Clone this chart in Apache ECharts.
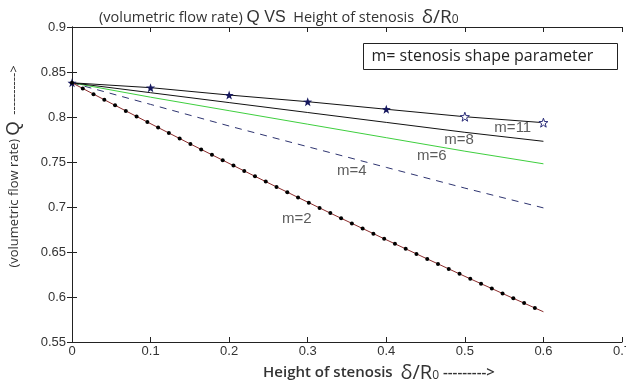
<!DOCTYPE html>
<html>
<head>
<meta charset="utf-8">
<script src="https://cdn.jsdelivr.net/npm/echarts@6/dist/echarts.min.js"></script>
<style>html,body{margin:0;padding:0;background:#fff}#c{width:626px;height:383px}</style>
</head>
<body>
<div id="c"></div>
<script>
// ---- data ----
const xTicks = [0, 0.1, 0.2, 0.3, 0.4, 0.5, 0.6, 0.7];
const yTicks = [0.55, 0.6, 0.65, 0.7, 0.75, 0.8, 0.85, 0.9];
const xCoarse = [0, 0.1, 0.2, 0.3, 0.4, 0.5, 0.6];
const m4 = [0.838, 0.814, 0.790, 0.767, 0.744, 0.721, 0.699];
const m6 = [0.838, 0.822, 0.807, 0.792, 0.777, 0.762, 0.748];
const m8 = [0.838, 0.827, 0.816, 0.805, 0.794, 0.783, 0.773];
const m11 = [0.838, 0.8326, 0.8244, 0.817, 0.8086, 0.8003, 0.7937];
const xFine = [0, 0.0137, 0.0274, 0.0411, 0.0548, 0.0685, 0.0822, 0.0959, 0.1096, 0.1233,
  0.137, 0.1507, 0.1644, 0.1781, 0.1918, 0.2055, 0.2192, 0.2329, 0.2466, 0.2603,
  0.274, 0.2877, 0.3014, 0.3151, 0.3288, 0.3425, 0.3562, 0.3699, 0.3836, 0.3973,
  0.411, 0.4247, 0.4384, 0.4521, 0.4658, 0.4795, 0.4932, 0.5069, 0.5206, 0.5343,
  0.548, 0.5617, 0.5754, 0.5891];
const m2 = [0.838, 0.8317, 0.8254, 0.8192, 0.8130, 0.8068, 0.8006, 0.7944, 0.7883, 0.7822,
  0.7761, 0.7700, 0.7640, 0.7580, 0.7520, 0.7460, 0.7401, 0.7341, 0.7282, 0.7223,
  0.7165, 0.7106, 0.7048, 0.6990, 0.6932, 0.6875, 0.6818, 0.6761, 0.6704, 0.6647,
  0.6591, 0.6535, 0.6479, 0.6423, 0.6368, 0.6312, 0.6257, 0.6202, 0.6148, 0.6094,
  0.6039, 0.5985, 0.5932, 0.5878];
const m2End = [0.6, 0.5836];
const curveLabels = ['m=2', 'm=4', 'm=6', 'm=8', 'm=11'];
const labelX = [0.286, 0.356, 0.458, 0.4926, 0.561];
const labelY = [0.6867, 0.740, 0.7567, 0.7744, 0.7878];

const pair = (xs, ys) => ys.map((v, i) => [xs[i], v]);
const m2Data = pair(xFine, m2).concat([{value: m2End, symbol: 'none'}]);
const hollowFrom = 5;
const m11Data = pair(xCoarse, m11).map((p, i) => i >= hollowFrom
  ? {value: p, itemStyle: {color: '#fff', borderColor: '#2a2c78', borderWidth: 1}} : p);

const tickFont = {fontFamily: 'Liberation Sans, Arial, sans-serif', fontSize: 13, color: '#333'};
const axisLine = {show: true, lineStyle: {color: '#222', width: 1}};
const tick = {show: true, inside: true, length: 5, lineStyle: {color: '#222'}};

const chart = echarts.init(document.getElementById('c'));
chart.setOption({
  animation: false,
  backgroundColor: '#fff',
  title: {
    left: 94, top: 3,
    text: '{a|(volumetric flow rate) }{q|Q }{v|VS}{a|  Height of stenosis  }{d|δ/R}{s|0}',
    textStyle: {
      fontWeight: 'normal',
      rich: {
        a: {fontFamily: 'Open Sans', fontSize: 14.5, color: '#333', fontWeight: 'normal'},
        q: {fontFamily: 'Liberation Sans', fontSize: 17, color: '#333', fontWeight: 'normal'},
        v: {fontFamily: 'Liberation Sans', fontSize: 16, color: '#333', fontWeight: 'normal'},
        d: {fontFamily: 'Open Sans', fontSize: 19, color: '#333', fontWeight: 'normal'},
        s: {fontFamily: 'Open Sans', fontSize: 12, color: '#333', fontWeight: 'normal', padding: [5, 0, 0, 0]}
      }
    }
  },
  grid: {left: 72, right: 4, top: 27, bottom: 41, containLabel: false, outerBoundsMode: 'none'},
  xAxis: [{
    type: 'value', min: 0, max: 0.7, interval: 0.1,
    axisLine: axisLine, axisTick: tick, splitLine: {show: false},
    axisLabel: Object.assign({margin: 3, formatter: v => String(+v.toFixed(1))}, tickFont),
    name: '{a|Height of stenosis  }{d|δ/R}{s|0}{a| --------->}',
    nameLocation: 'middle', nameGap: 14,
    nameTextStyle: {
      padding: [0, 0, 0, 64],
      rich: {
        a: {fontFamily: 'Open Sans', fontSize: 15, color: '#333', fontWeight: 600},
        d: {fontFamily: 'Open Sans', fontSize: 20, color: '#333'},
        s: {fontFamily: 'Open Sans', fontSize: 12, color: '#333', padding: [5, 0, 0, 0]}
      }
    }
  }, {
    type: 'value', position: 'top', min: 0, max: 0.7, interval: 0.1,
    axisLine: axisLine, axisTick: tick, axisLabel: {show: false}, splitLine: {show: false}
  }],
  yAxis: [{
    type: 'value', min: 0.55, max: 0.9, interval: 0.05,
    axisLine: axisLine, axisTick: tick, splitLine: {show: false},
    axisLabel: Object.assign({margin: 6, formatter: v => String(+v.toFixed(2))}, tickFont),
    name: '{a|(volumetric flow rate) }{q|Q}{a|  ---------->}',
    nameLocation: 'middle', nameRotate: 90, nameGap: 49,
    nameTextStyle: {
      padding: [0, 0, 0, 36],
      rich: {
        a: {fontFamily: 'Open Sans', fontSize: 13, color: '#333'},
        q: {fontFamily: 'Liberation Sans', fontSize: 18, color: '#333'}
      }
    }
  }, {
    type: 'value', position: 'right', min: 0.55, max: 0.9, interval: 0.05,
    axisLine: axisLine, axisTick: tick, axisLabel: {show: false}, splitLine: {show: false}
  }],
  graphic: [{
    type: 'group', left: 363, top: 43,
    children: [
      {type: 'rect', shape: {x: 0, y: 0, width: 254, height: 26}, style: {fill: '#fff', stroke: '#222', lineWidth: 1}},
      {type: 'text', x: 8, y: 13, style: {text: 'm= stenosis shape parameter', font: '16px "Open Sans"', fill: '#222', verticalAlign: 'middle'}}
    ]
  }],
  series: [
    {type: 'line', name: 'm=4', data: pair(xCoarse, m4), showSymbol: false, lineStyle: {color: '#2e3470', width: 1, type: [7, 6]}, z: 3},
    {type: 'line', name: 'm=6', data: pair(xCoarse, m6), showSymbol: false, lineStyle: {color: '#3ecf3e', width: 1}, z: 3},
    {type: 'line', name: 'm=8', data: pair(xCoarse, m8), showSymbol: false, lineStyle: {color: '#111', width: 1}, z: 3},
    {type: 'line', name: 'm=11', data: m11Data, symbol: 'path://M0,-10 L2.35,-3.24 L9.51,-3.09 L3.8,1.24 L5.88,8.09 L0,4 L-5.88,8.09 L-3.8,1.24 L-9.51,-3.09 L-2.35,-3.24 Z', symbolSize: 9, itemStyle: {color: '#16185e'}, lineStyle: {color: '#111', width: 1}, z: 4},
    {type: 'line', name: 'm=2', data: m2Data, symbol: 'circle', symbolSize: 4, itemStyle: {color: '#000'}, lineStyle: {color: '#8a2b2b', width: 1}, z: 4},
    {type: 'scatter', name: 'labels', symbolSize: 0, silent: true,
      data: curveLabels.map((t, i) => ({value: [labelX[i], labelY[i]], label: {formatter: t}})),
      label: {show: true, position: 'inside', fontFamily: 'Liberation Sans, Arial', fontSize: 15, color: '#333'}, z: 5}
  ]
});
</script>
</body>
</html>
